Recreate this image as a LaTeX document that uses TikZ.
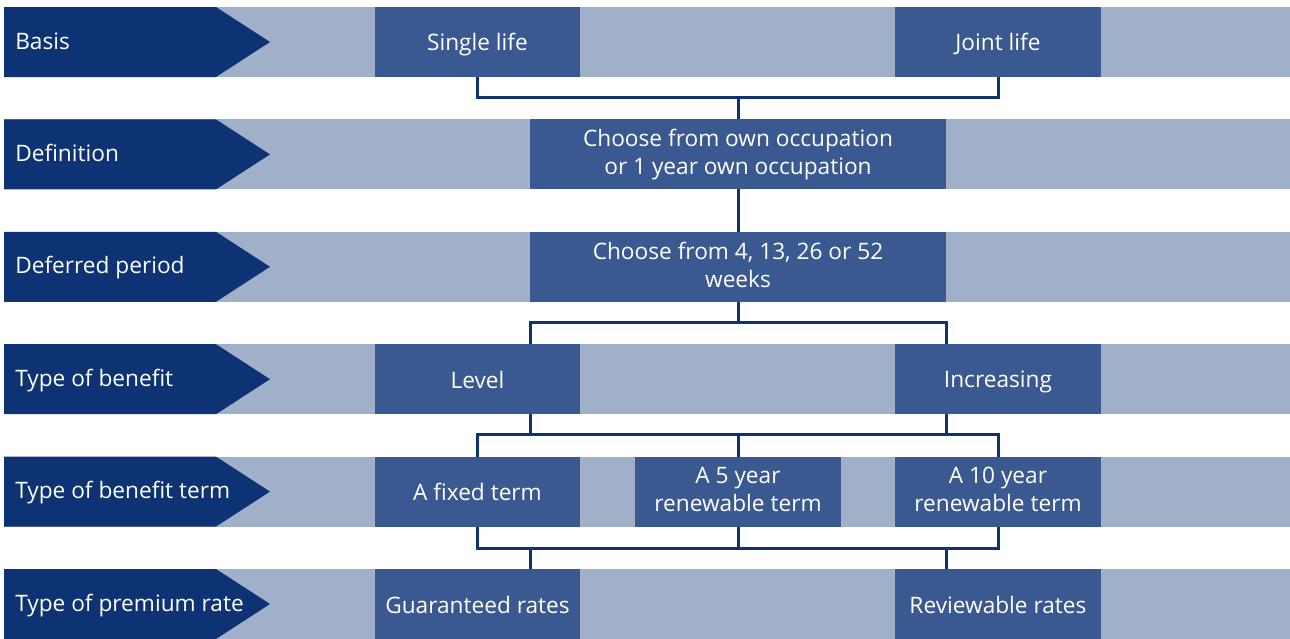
\documentclass[tikz,border=0pt]{standalone}
\usepackage{fontspec}
\setmainfont{Open Sans}
\definecolor{navy}{RGB}{14,51,116}
\definecolor{boxblue}{RGB}{58,89,145}
\definecolor{bandgrey}{RGB}{161,176,201}
\newcommand\boxstrut{\rule[-3pt]{0pt}{19.5pt}}
\tikzset{
  band/.style={fill=bandgrey},
  tagshape/.style={fill=navy},
  tag/.style={anchor=base west, text=white, inner sep=0pt, font=\fontsize{17}{21}\selectfont},
  choice/.style={fill=boxblue, text=white, minimum width=154pt, minimum height=52.5pt,
    inner sep=0pt, outer sep=0pt, align=center, font=\fontsize{17}{21}\selectfont,
    execute at begin node=\boxstrut, execute at end node=\boxstrut},
  widechoice/.style={choice, minimum width=312pt},
  link/.style={draw=navy, line width=2.25pt}
}

\begin{document}
\begin{tikzpicture}[x=0.75pt, y=-0.75pt]
  \useasboundingbox (0,0) rectangle (1290,639);

  \foreach \y/\name/\txt in {42/basis/Basis, 154.4/defn/Definition, 266.8/defer/Deferred period,
      379.2/bentype/Type of benefit, 491.6/termtype/Type of benefit term, 604/ratetype/Type of premium rate}{
    \fill[band] (4,\y-35) rectangle (1290,\y+35);
    \fill[tagshape] (4,\y-35) -- (216,\y-35) -- (270,\y) -- (216,\y+35) -- (4,\y+35) -- cycle;
    \node[tag] (\name) at (15,\y+7) {\txt};
  }

  \node[choice] (single) at (477.5,42) {Single life};
  \node[choice] (joint) at (998,42) {Joint life};

  \node[widechoice] (occupation) at (738,154.4) {Choose from own occupation\\or 1 year own occupation};

  \node[widechoice] (deferred) at (738,266.8) {Choose from 4, 13, 26 or 52\\weeks};

  \node[choice] (level) at (477.5,379.2) {Level};
  \node[choice] (increasing) at (998,379.2) {Increasing};

  \node[choice] (fixed) at (477.5,491.6) {A fixed term};
  \node[choice] (fiveyear) at (738,491.6) {A 5 year\\renewable term};
  \node[choice] (tenyear) at (998,491.6) {A 10 year\\renewable term};

  \node[choice] (guaranteed) at (477.5,604) {Guaranteed rates};
  \node[choice] (reviewable) at (998,604) {Reviewable rates};

  \coordinate (hubA) at (738,97);
  \coordinate (hubB) at (738,322);
  \coordinate (hubC) at (738,434);
  \coordinate (hubD) at (738,548);

  \draw[link] (single.south) |- (hubA) -| (joint.south);
  \draw[link] (hubA) -- (occupation.north);
  \draw[link] (occupation.south) -- (deferred.north);

  \draw[link] (deferred.south) -- (hubB);
  \draw[link] (level.north -| deferred.west) |- (hubB) -| (increasing.north -| deferred.east);

  \draw[link] (level.south -| deferred.west) -- (hubC -| deferred.west);
  \draw[link] (increasing.south -| deferred.east) -- (hubC -| deferred.east);
  \draw[link] (fixed.north) |- (hubC) -| (tenyear.north);
  \draw[link] (fiveyear.north) -- (hubC);

  \draw[link] (fixed.south) |- (hubD) -| (tenyear.south);
  \draw[link] (fiveyear.south) -- (hubD);
  \draw[link] (hubD -| deferred.west) -- (guaranteed.north -| deferred.west);
  \draw[link] (hubD -| deferred.east) -- (reviewable.north -| deferred.east);
\end{tikzpicture}
\end{document}
